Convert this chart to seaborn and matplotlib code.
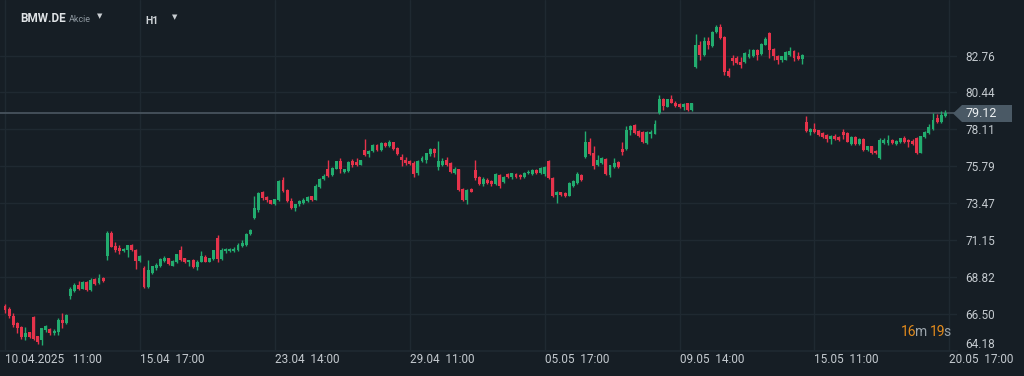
import matplotlib
matplotlib.use("Agg")
import matplotlib.pyplot as plt
from matplotlib.patches import Polygon
import numpy as np
import seaborn as sns

# ============================
# data: BMW.DE, H1 candles
# ============================

days = ["10.04", "11.04", "14.04", "15.04", "16.04", "17.04", "22.04", "23.04", "24.04",
        "25.04", "28.04", "29.04", "30.04", "02.05", "05.05", "06.05", "07.05", "08.05",
        "09.05", "12.05", "13.05", "14.05", "15.05", "16.05", "19.05", "20.05"]
hours = [9, 10, 11, 12, 13, 14, 15, 16, 17]

opens = [
    67.00, 66.85, 66.35, 65.95, 65.70, 65.05, 65.35,                      # 10.04 (from 11:00)
    66.30, 65.10, 64.85, 65.50, 65.55, 65.30, 65.40, 66.10, 65.95,        # 11.04
    67.65, 67.95, 68.35, 68.10, 68.50, 68.00, 68.70, 68.45, 68.80,        # 14.04
    70.15, 71.60, 70.80, 70.65, 70.45, 70.55, 70.85, 70.50, 69.85,        # 15.04
    69.40, 68.20, 69.10, 69.40, 69.50, 69.85, 70.00, 69.55, 69.75,        # 16.04
    70.55, 70.00, 69.75, 69.90, 69.45, 69.80, 70.10, 69.80, 69.95,        # 17.04
    71.30, 69.95, 70.45, 70.45, 70.45, 70.50, 70.80, 70.85, 71.55,        # 22.04
    72.55, 73.05, 74.20, 73.85, 73.65, 73.45, 73.65, 74.95, 74.30,        # 23.04
    73.60, 73.15, 73.40, 73.50, 73.60, 73.90, 73.70, 74.50, 75.00,        # 24.04
    75.60, 75.25, 75.65, 76.10, 75.45, 75.50, 76.15, 76.05, 75.90,        # 25.04
    76.80, 76.55, 76.75, 77.15, 76.80, 77.25, 77.10, 77.30, 76.95,        # 28.04
    76.40, 76.20, 76.10, 76.00, 75.35, 76.10, 76.20, 76.55, 76.90,        # 29.04
    75.75, 75.90, 76.20, 76.00, 75.35, 75.60, 74.35, 73.70, 74.35,        # 30.04
    75.55, 75.15, 74.65, 74.95, 74.90, 74.65, 75.25, 74.80, 75.30,        # 02.05
    75.10, 75.30, 75.25, 75.10, 75.35, 75.30, 75.55, 75.35, 75.30,        # 05.05
    76.15, 75.05, 74.00, 74.15, 74.10, 73.95, 74.55, 74.75, 75.25,        # 06.05
    76.35, 77.30, 76.60, 75.85, 76.00, 76.25, 75.25, 75.75, 76.05,        # 07.05
    76.90, 76.85, 78.05, 78.40, 78.00, 77.95, 77.25, 77.80, 77.85,        # 08.05
    79.15, 80.05, 79.55, 80.00, 79.80, 79.70, 79.50, 79.75, 79.35,        # 09.05
    82.05, 83.40, 82.80, 83.70, 83.35, 84.25, 84.55, 83.95, 81.80,        # 12.05
    82.60, 82.60, 82.35, 82.35, 82.65, 82.70, 83.10, 82.85, 83.45,        # 13.05
    84.20, 83.20, 82.75, 82.50, 82.50, 82.80, 83.05, 82.75, 82.55,        # 14.05
    78.60, 77.95, 78.15, 78.05, 77.90, 77.75, 77.50, 77.70, 77.65,        # 15.05
    77.95, 77.90, 77.20, 77.65, 77.20, 77.50, 76.80, 77.05, 76.75,        # 16.05
    76.30, 77.25, 77.25, 77.45, 77.20, 77.30, 77.55, 77.45, 77.40,        # 19.05
    77.60, 76.65, 77.65, 77.90, 78.15, 78.85, 78.55, 78.95,               # 20.05 (to 16:00)
]
highs = [
    67.15, 66.95, 66.60, 66.00, 65.75, 65.70, 65.40,
    66.40, 65.15, 65.65, 65.80, 65.65, 65.55, 66.25, 66.55, 66.50,
    68.20, 68.45, 68.55, 68.55, 68.60, 68.75, 68.75, 69.00, 68.85,
    71.70, 71.70, 71.05, 70.85, 70.65, 70.85, 70.90, 70.60, 70.20,
    69.55, 69.90, 69.55, 69.70, 70.00, 70.15, 70.05, 69.90, 70.30,
    70.80, 70.05, 69.90, 69.95, 69.90, 70.45, 70.20, 70.00, 70.50,
    71.50, 70.65, 70.65, 70.65, 70.75, 70.95, 71.15, 71.60, 71.85,
    73.90, 74.20, 74.25, 73.95, 73.70, 73.75, 74.95, 75.10, 74.35,
    73.80, 73.45, 73.70, 73.80, 73.90, 73.95, 74.65, 75.05, 75.30,
    76.20, 75.75, 76.15, 76.30, 75.65, 76.10, 76.25, 76.30, 76.20,
    77.50, 76.80, 77.20, 77.20, 77.30, 77.30, 77.45, 77.35, 77.00,
    76.55, 76.35, 76.20, 76.10, 76.20, 76.45, 76.65, 76.95, 76.95,
    77.40, 76.30, 76.35, 76.05, 75.75, 75.65, 74.40, 74.35, 74.40,
    76.20, 75.20, 75.10, 75.05, 74.95, 75.35, 75.30, 75.20, 75.35,
    75.40, 75.35, 75.30, 75.45, 75.55, 75.60, 75.65, 75.75, 75.80,
    76.20, 75.10, 74.25, 74.20, 74.15, 74.80, 74.95, 75.45, 75.30,
    78.00, 77.60, 77.05, 76.50, 76.40, 76.30, 75.90, 76.30, 76.10,
    77.30, 78.35, 78.40, 78.45, 78.10, 78.00, 78.00, 78.10, 78.70,
    80.30, 80.10, 80.05, 80.25, 79.90, 79.75, 79.75, 79.80, 79.80,
    84.10, 83.65, 83.90, 83.90, 84.30, 84.70, 84.75, 84.00, 81.95,
    82.80, 82.70, 82.65, 82.95, 83.20, 83.15, 83.15, 83.55, 83.90,
    84.25, 83.25, 82.80, 82.70, 83.05, 83.30, 83.10, 82.95, 82.85,
    78.95, 78.20, 78.50, 78.10, 77.95, 77.80, 77.75, 77.85, 77.70,
    78.15, 77.95, 77.70, 77.70, 77.55, 77.55, 77.10, 77.10, 76.80,
    77.60, 77.55, 77.75, 77.50, 77.45, 77.60, 77.70, 77.50, 77.50,
    77.65, 77.70, 78.00, 78.45, 79.15, 79.10, 79.25, 79.35,
]
lows = [
    66.55, 66.25, 65.70, 65.30, 64.95, 64.85, 65.00,
    64.85, 64.60, 64.55, 65.40, 65.20, 65.20, 65.20, 65.60, 65.90,
    67.45, 67.90, 68.00, 68.05, 67.95, 67.95, 68.35, 68.40, 68.50,
    69.90, 70.70, 70.40, 70.30, 70.40, 70.10, 70.45, 69.35, 69.80,
    68.15, 68.15, 69.00, 69.30, 69.45, 69.80, 69.60, 69.50, 69.70,
    69.85, 69.70, 69.50, 69.40, 69.25, 69.75, 69.75, 69.75, 69.90,
    69.80, 69.90, 70.35, 70.40, 70.40, 70.45, 70.75, 70.80, 71.50,
    72.50, 72.95, 73.70, 73.55, 73.40, 73.35, 73.60, 74.20, 73.55,
    73.10, 73.00, 73.30, 73.40, 73.55, 73.60, 73.65, 74.45, 74.95,
    75.10, 75.20, 75.60, 75.40, 75.35, 75.45, 75.75, 75.80, 75.85,
    76.45, 76.40, 76.70, 76.75, 76.75, 77.00, 77.00, 76.80, 76.50,
    75.80, 75.90, 75.85, 75.15, 75.25, 76.05, 76.00, 76.45, 76.40,
    75.55, 75.80, 75.80, 75.40, 75.30, 74.25, 73.60, 73.45, 74.15,
    74.95, 74.60, 74.55, 74.70, 74.55, 74.60, 74.45, 74.75, 75.05,
    75.00, 75.05, 75.00, 75.05, 75.30, 75.25, 75.30, 75.30, 75.20,
    75.00, 73.85, 73.50, 73.95, 73.85, 73.90, 74.50, 74.70, 74.90,
    76.30, 76.50, 75.65, 75.80, 75.95, 75.25, 75.15, 75.70, 75.70,
    76.50, 76.80, 77.75, 77.85, 77.65, 77.25, 77.20, 77.60, 77.80,
    79.10, 79.35, 79.50, 79.75, 79.55, 79.45, 79.35, 79.30, 79.30,
    82.00, 82.50, 82.75, 83.20, 83.30, 84.20, 83.80, 81.55, 81.40,
    82.15, 82.20, 82.00, 82.30, 82.60, 82.65, 82.50, 82.80, 83.40,
    82.60, 82.50, 82.25, 82.35, 82.45, 82.75, 82.40, 82.50, 82.25,
    77.95, 77.75, 77.90, 77.70, 77.60, 77.30, 77.20, 77.45, 77.40,
    77.50, 77.30, 77.15, 77.15, 77.15, 76.75, 76.75, 76.55, 76.55,
    76.25, 77.20, 77.15, 77.20, 77.15, 77.25, 77.25, 77.00, 77.15,
    76.55, 76.60, 77.60, 77.85, 78.10, 78.50, 78.50, 78.90,
]
closes = [
    66.75, 66.35, 65.80, 65.60, 65.05, 65.33, 65.05,
    64.95, 64.75, 65.60, 65.75, 65.30, 65.45, 66.10, 65.95, 66.45,
    68.05, 68.35, 68.10, 68.50, 68.00, 68.65, 68.40, 68.80, 68.55,
    71.60, 70.75, 70.55, 70.45, 70.60, 70.85, 70.50, 69.85, 70.15,
    68.20, 69.30, 69.50, 69.60, 69.95, 70.05, 69.65, 69.85, 70.25,
    69.90, 69.75, 69.90, 69.45, 69.80, 70.15, 69.80, 70.00, 70.50,
    69.95, 70.50, 70.60, 70.60, 70.60, 70.85, 71.00, 71.55, 71.80,
    73.20, 74.10, 73.80, 73.65, 73.45, 73.75, 74.90, 74.25, 73.60,
    73.15, 73.40, 73.60, 73.70, 73.85, 73.70, 74.55, 75.00, 75.20,
    75.20, 75.70, 76.10, 75.60, 75.60, 76.05, 75.85, 75.85, 76.20,
    76.50, 76.75, 77.15, 76.80, 77.25, 77.05, 77.30, 76.85, 76.55,
    76.20, 76.00, 75.95, 75.30, 76.15, 76.30, 76.60, 76.90, 76.65,
    76.15, 76.10, 75.90, 75.45, 75.65, 74.30, 73.65, 74.30, 74.20,
    75.05, 74.65, 75.00, 74.75, 74.65, 75.30, 74.55, 75.15, 75.10,
    75.35, 75.10, 75.10, 75.40, 75.45, 75.55, 75.35, 75.70, 75.75,
    75.05, 73.95, 74.15, 74.00, 73.95, 74.75, 74.90, 75.30, 74.95,
    77.30, 76.55, 75.80, 76.20, 76.30, 75.30, 75.85, 76.00, 75.75,
    76.70, 78.10, 78.30, 77.90, 77.70, 77.30, 77.95, 77.95, 78.45,
    80.05, 79.60, 80.00, 79.80, 79.60, 79.50, 79.70, 79.35, 79.75,
    83.40, 82.80, 83.70, 83.40, 84.25, 84.55, 83.85, 81.70, 81.45,
    82.40, 82.30, 82.15, 82.90, 82.85, 83.10, 82.80, 83.50, 83.80,
    83.10, 82.70, 82.50, 82.70, 83.00, 83.05, 82.60, 82.55, 82.80,
    78.00, 78.15, 77.95, 77.75, 77.65, 77.50, 77.70, 77.50, 77.45,
    77.75, 77.35, 77.65, 77.20, 77.50, 76.80, 77.05, 76.60, 76.60,
    77.45, 77.45, 77.45, 77.25, 77.40, 77.55, 77.30, 77.30, 77.20,
    76.60, 77.70, 77.95, 78.25, 78.70, 78.55, 79.05, 79.12,
]

tick_times = ["10.04 11:00", "15.04 17:00", "23.04 14:00", "29.04 11:00",
              "05.05 17:00", "09.05 14:00", "15.05 11:00", "20.05 17:00"]
tick_texts = ["10.04.2025   11:00", "15.04  17:00", "23.04  14:00", "29.04  11:00",
              "05.05  17:00", "09.05  14:00", "15.05  11:00", "20.05  17:00"]
price_ticks = [64.18, 66.50, 68.82, 71.15, 73.47, 75.79, 78.11, 80.44, 82.76]
price_labels = ["64.18", "66.50", "68.82", "71.15", "73.47", "75.79", "78.11", "80.44", "82.76"]
last_price = 79.12
countdown = [("16", "orange"), ("m", "grey"), ("19", "orange"), ("s", "grey")]

# ============================
# style
# ============================

BG = "#161e25"
GRID = "#1f2931"
TXT = "#c4cacf"
UP = "#22ac6f"
DOWN = "#e6334b"

sns.set_theme(style="dark", rc={
    "axes.facecolor": BG, "figure.facecolor": BG,
    "axes.edgecolor": GRID, "grid.color": GRID,
    "xtick.color": TXT, "ytick.color": TXT,
})
plt.rcParams["font.family"] = ["Roboto", "DejaVu Sans"]

W, H = 1024, 376
fig = plt.figure(figsize=(W / 100, H / 100), dpi=100)
ax = fig.add_axes([0, 25 / H, 957 / W, 351 / H])

# time slots without gaps (nights / weekends removed)
slots = [f"{d} {h:02d}:00" for d in days for h in hours][2:]
n = len(opens)
assert n == len(highs) == len(lows) == len(closes) == 231
x = np.arange(n)
o = np.array(opens)
h = np.array(highs)
l = np.array(lows)
c = np.array(closes)
up = c >= o
cols = np.where(up, UP, DOWN)

# wicks + bodies
ax.vlines(x, l, h, colors=cols, lw=1, zorder=3)
body = np.maximum(np.abs(c - o), 0.06)
ax.bar(x, body, bottom=np.minimum(o, c), width=0.72, color=cols, lw=0, zorder=4)

# last price line
ax.axhline(last_price, color="#47535d", lw=1.3, zorder=2)

# axes
px_per_bar = 4.088
ax.set_xlim(-5 / px_per_bar, (957 - 5) / px_per_bar)
ax.set_ylim(64.18, 86.25)

ax.set_xticks([slots.index(t) for t in tick_times])
ax.set_xticklabels(tick_texts, fontsize=8.5, color=TXT)
for lbl in ax.get_xticklabels():
    lbl.set_horizontalalignment("left")
ax.tick_params(axis="x", length=0, pad=1.5)

ax.yaxis.tick_right()
ax.set_yticks(price_ticks)
ax.set_yticklabels(price_labels, fontsize=8.5, color=TXT)
ax.tick_params(axis="y", length=0, pad=5.8)
ax.get_yticklabels()[0].set_verticalalignment("bottom")

ax.grid(True, color=GRID, lw=1)
ax.set_axisbelow(True)
sns.despine(ax=ax, left=True, right=True, top=True, bottom=False)
ax.spines["bottom"].set_color(GRID)


def fxy(px, py):
    return px / W, 1 - py / H


# price tag
tag = Polygon([fxy(953, 113.5), fxy(962, 105), fxy(1012, 105), fxy(1012, 122), fxy(962, 122)],
              closed=True, transform=fig.transFigure, color="#4a5965", lw=0)
fig.patches.append(tag)
fig.text(*fxy(966, 113.8), f"{last_price:.2f}", color="#eef1f3", fontsize=9, va="center")

# header
fig.text(*fxy(20, 18.5), "BMW.DE", color="#dfe3e6", fontsize=8.5, fontweight="bold", va="center")
fig.text(*fxy(69, 19.5), "Akcie", color="#8d979f", fontsize=6.5, va="center")
fig.text(*fxy(97, 16.5), "▼", color="#c9ced2", fontsize=5, va="center")
fig.text(*fxy(145, 20.5), "H1", color="#cfd4d8", fontsize=7.5, fontweight="bold", va="center")
fig.text(*fxy(172, 17.5), "▼", color="#c9ced2", fontsize=5, va="center")

# candle countdown, pieces placed one after another
cd_col = {"orange": "#e38b1c", "grey": "#9aa3aa"}
gaps = [-1.5, 3.0, -1.5, 0]
rend = fig.canvas.get_renderer()
cx = 900.5
for (s, k), g in zip(countdown, gaps):
    t = fig.text(*fxy(cx, 332), s, color=cd_col[k], fontsize=10, va="center")
    cx = t.get_window_extent(rend).x1 + g

fig.savefig("out.png", dpi=100, facecolor=BG)
